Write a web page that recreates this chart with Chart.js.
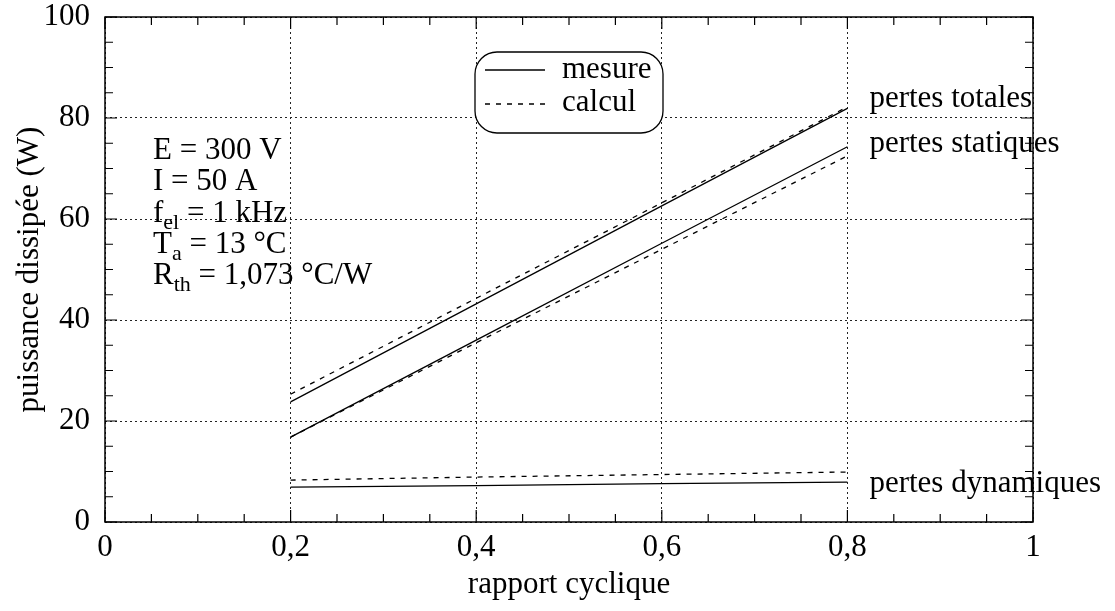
<!DOCTYPE html>
<html>
<head>
<meta charset="utf-8">
<script src="https://cdn.jsdelivr.net/npm/chart.js@4/dist/chart.umd.min.js"></script>
<style>
  body { margin: 0; background: #fff; }
  #wrap { width: 1115px; height: 611px; }
</style>
</head>
<body>
<div id="wrap"><canvas id="c" width="1115" height="611"></canvas></div>
<script>
// values
var rapport = [0.2, 0.4, 0.6, 0.8];
var totalesMesure = [23.8, 43.2, 62.6, 81.9];
var totalesCalcul = [25.3, 44.3, 63.2, 82.2];
var statiquesMesure = [16.8, 36.0, 55.2, 74.3];
var statiquesCalcul = [16.8, 35.5, 54.0, 72.5];
var dynamiquesMesure = [6.9, 7.2, 7.6, 7.9];
var dynamiquesCalcul = [8.3, 8.9, 9.4, 9.9];

var courbeNoms = ['pertes totales', 'pertes statiques', 'pertes dynamiques'];
var courbeY = [82.2, 73.3, 5.9];

var xTicksMajeurs = [0, 0.2, 0.4, 0.6, 0.8, 1];
var yTicksMajeurs = [0, 20, 40, 60, 80, 100];

var parametres = [
    [['E = 300 V']],
    [['I = 50 A']],
    [['f'], ['el', 1], [' = 1 kHz']],
    [['T'], ['a', 1], [' = 13 °C']],
    [['R'], ['th', 1], [' = 1,073 °C/W']]
];

var SERIF = "'Liberation Serif', 'Times New Roman', serif";
Chart.defaults.font.family = SERIF;
Chart.defaults.color = '#000';

function pts(ys) {
    return rapport.map(function (x, i) { return { x: x, y: ys[i] }; });
}
function isMajor(v, list) {
    return list.some(function (m) { return Math.abs(m - v) < 1e-6; });
}
function serie(ys, dashed) {
    return {
        data: pts(ys),
        borderColor: '#000',
        borderWidth: 1.3,
        borderDash: dashed ? [5, 6] : [],
        pointRadius: 0,
        fill: false,
        tension: 0
    };
}

var decor = {
    id: 'decor',
    afterDatasetsDraw: function (chart) {
        var ctx = chart.ctx;
        var a = chart.chartArea;
        var xs = chart.scales.x, ys = chart.scales.y;
        ctx.save();
        ctx.strokeStyle = '#000';
        ctx.lineWidth = 1.5;
        ctx.setLineDash([]);
        ctx.strokeRect(a.left, a.top, a.right - a.left, a.bottom - a.top);

        // inward ticks on all four sides
        ctx.lineWidth = 1.2;
        ctx.beginPath();
        xs.ticks.forEach(function (t) {
            var px = xs.getPixelForValue(t.value);
            var len = isMajor(t.value, xTicksMajeurs) ? 12 : 8;
            ctx.moveTo(px, a.bottom); ctx.lineTo(px, a.bottom - len);
            ctx.moveTo(px, a.top); ctx.lineTo(px, a.top + len);
        });
        ys.ticks.forEach(function (t) {
            var py = ys.getPixelForValue(t.value);
            var len = isMajor(t.value, yTicksMajeurs) ? 12 : 8;
            ctx.moveTo(a.left, py); ctx.lineTo(a.left + len, py);
            ctx.moveTo(a.right, py); ctx.lineTo(a.right - len, py);
        });
        ctx.stroke();

        // curve names
        ctx.fillStyle = '#000';
        ctx.font = '31px ' + SERIF;
        ctx.textAlign = 'left';
        ctx.textBaseline = 'alphabetic';
        var x0 = xs.getPixelForValue(0.8) + 22;
        courbeNoms.forEach(function (n, i) {
            ctx.fillText(n, x0, ys.getPixelForValue(courbeY[i]));
        });

        // operating conditions
        var bx = a.left + 48;
        parametres.forEach(function (ligne, i) {
            var by = a.top + 142 + i * 31.3;
            var cx = bx;
            ligne.forEach(function (seg) {
                if (seg[1]) {
                    ctx.font = '22px ' + SERIF;
                    ctx.fillText(seg[0], cx, by + 7);
                } else {
                    ctx.font = '31px ' + SERIF;
                    ctx.fillText(seg[0], cx, by);
                }
                cx += ctx.measureText(seg[0]).width;
            });
        });

        // legend box
        var lx = 475, ly = 52, lw = 188, lh = 81;
        ctx.fillStyle = '#fff';
        ctx.beginPath();
        ctx.roundRect(lx, ly, lw, lh, 22);
        ctx.fill();
        ctx.lineWidth = 1.3;
        ctx.stroke();
        ctx.beginPath();
        ctx.moveTo(485, 70); ctx.lineTo(545, 70);
        ctx.stroke();
        ctx.setLineDash([5, 6]);
        ctx.beginPath();
        ctx.moveTo(485, 104); ctx.lineTo(545, 104);
        ctx.stroke();
        ctx.setLineDash([]);
        ctx.fillStyle = '#000';
        ctx.font = '31px ' + SERIF;
        ctx.fillText('mesure', 562, 78);
        ctx.fillText('calcul', 562, 111);
        ctx.restore();
    }
};

var chart = new Chart(document.getElementById('c').getContext('2d'), {
    type: 'line',
    data: {
        datasets: [
            serie(totalesMesure, false),
            serie(totalesCalcul, true),
            serie(statiquesMesure, false),
            serie(statiquesCalcul, true),
            serie(dynamiquesMesure, false),
            serie(dynamiquesCalcul, true)
        ]
    },
    options: {
        responsive: false,
        animation: false,
        layout: { padding: { left: 0, right: 82, top: 17, bottom: 0 } },
        plugins: { legend: { display: false }, tooltip: { enabled: false } },
        scales: {
            x: {
                type: 'linear',
                min: 0, max: 1,
                afterFit: function (s) { s.height = 89; },
                border: { display: false, dash: [2, 3] },
                grid: {
                    drawTicks: false,
                    lineWidth: 1,
                    color: function (c) {
                        return c.tick && isMajor(c.tick.value, xTicksMajeurs) ? '#222' : 'rgba(0,0,0,0)';
                    }
                },
                ticks: {
                    stepSize: 0.05,
                    autoSkip: false,
                    maxRotation: 0,
                    padding: 10,
                    font: { size: 31, lineHeight: 1 },
                    callback: function (v) {
                        if (!isMajor(v, xTicksMajeurs)) return '';
                        var r = Math.round(v * 10) / 10;
                        if (r === 0 || r === 1) return String(r);
                        return r.toFixed(1).replace('.', ',');
                    }
                },
                title: {
                    display: true,
                    text: 'rapport cyclique',
                    font: { size: 31 },
                    padding: { top: 0, bottom: 8 }
                }
            },
            y: {
                min: 0, max: 100,
                afterFit: function (s) {
                    s.width = 105;
                    s.paddingTop = 0;
                    s.paddingBottom = 0;
                },
                border: { display: false, dash: [2, 3] },
                grid: {
                    drawTicks: false,
                    lineWidth: 1,
                    color: function (c) {
                        return c.tick && isMajor(c.tick.value, yTicksMajeurs) ? '#222' : 'rgba(0,0,0,0)';
                    }
                },
                ticks: {
                    stepSize: 5,
                    autoSkip: false,
                    padding: 15,
                    font: { size: 31, lineHeight: 1 },
                    callback: function (v) {
                        return isMajor(v, yTicksMajeurs) ? String(Math.round(v)) : '';
                    }
                },
                title: {
                    display: true,
                    text: 'puissance dissipée (W)',
                    font: { size: 31 },
                    padding: { top: 11, bottom: 0 }
                }
            }
        }
    },
    plugins: [decor]
});
</script>
</body>
</html>
